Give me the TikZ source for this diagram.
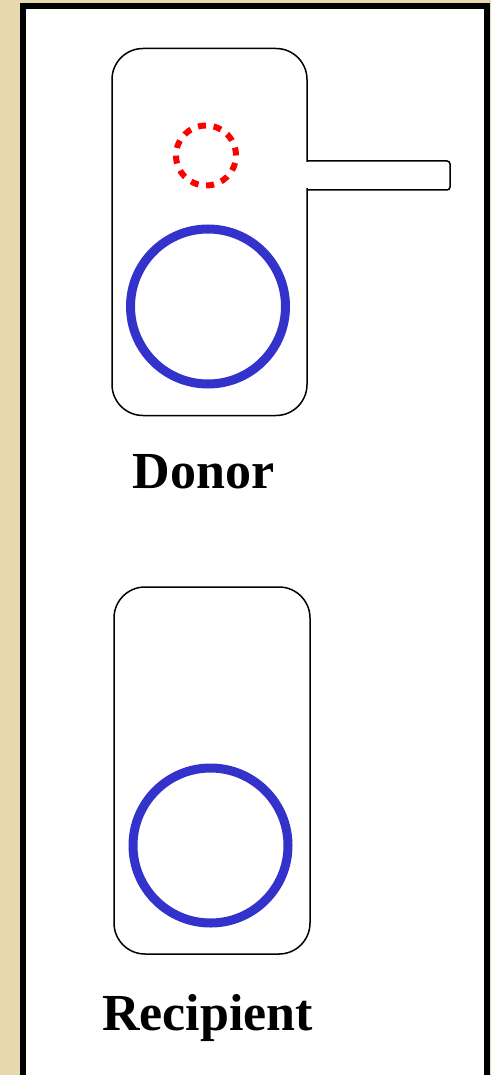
\documentclass[tikz,border=0pt]{standalone}
\usepackage{fontspec}
\setmainfont{Liberation Serif}
\usepackage{xcolor}
\definecolor{parchment}{HTML}{E8D8AE}
\definecolor{cellblue}{HTML}{3333CC}
\usetikzlibrary{positioning}

\begin{document}
\begin{tikzpicture}[x=1pt, y=-1pt,
  cellline/.style={draw=black, line width=1.5pt},
  cellbox/.style={cellline, rounded corners=31pt, fill=white, inner sep=0pt,
    minimum width=195pt, minimum height=367pt},
  nucleus/.style={circle, draw=cellblue, line width=9pt, inner sep=0pt, minimum size=155pt},
  organelle/.style={circle, draw=red, line width=6pt, inner sep=0pt, minimum size=60pt,
    dash pattern=on 8pt off 7.71pt},
  caption/.style={font=\fontsize{52}{60}\selectfont\bfseries, anchor=base, inner sep=0pt}
]
\useasboundingbox (0,0) rectangle (491,1075);
\clip (0,0) rectangle (491,1075);
% background and panel
\fill[parchment] (0,0) rectangle (491,1075);
\draw[line width=6pt, fill=white] (23,6) rectangle (487,1095);

% donor cell with its handle
\node[cellbox] (donor) at (209.5,232) {};
\fill[white] (305,162.5) rectangle (309,188.5);
\draw[cellline, rounded corners=3pt] (donor.east |- 0,161) -- (450,161) -- (450,190) -- (donor.east |- 0,190);
\node[organelle] (dot) at (206,155.5) {};
\node[nucleus] (donornuc) at (208,306.5) {};
\node[caption] (donorlabel) at (203.5,488) {Donor};

% recipient cell
\node[cellbox, minimum width=196pt] (recip) at (212,770.5) {};
\node[nucleus] (recipnuc) at (210.5,845.5) {};
\node[caption] (reciplabel) at (207.5,1030) {Recipient};
\end{tikzpicture}
\end{document}
